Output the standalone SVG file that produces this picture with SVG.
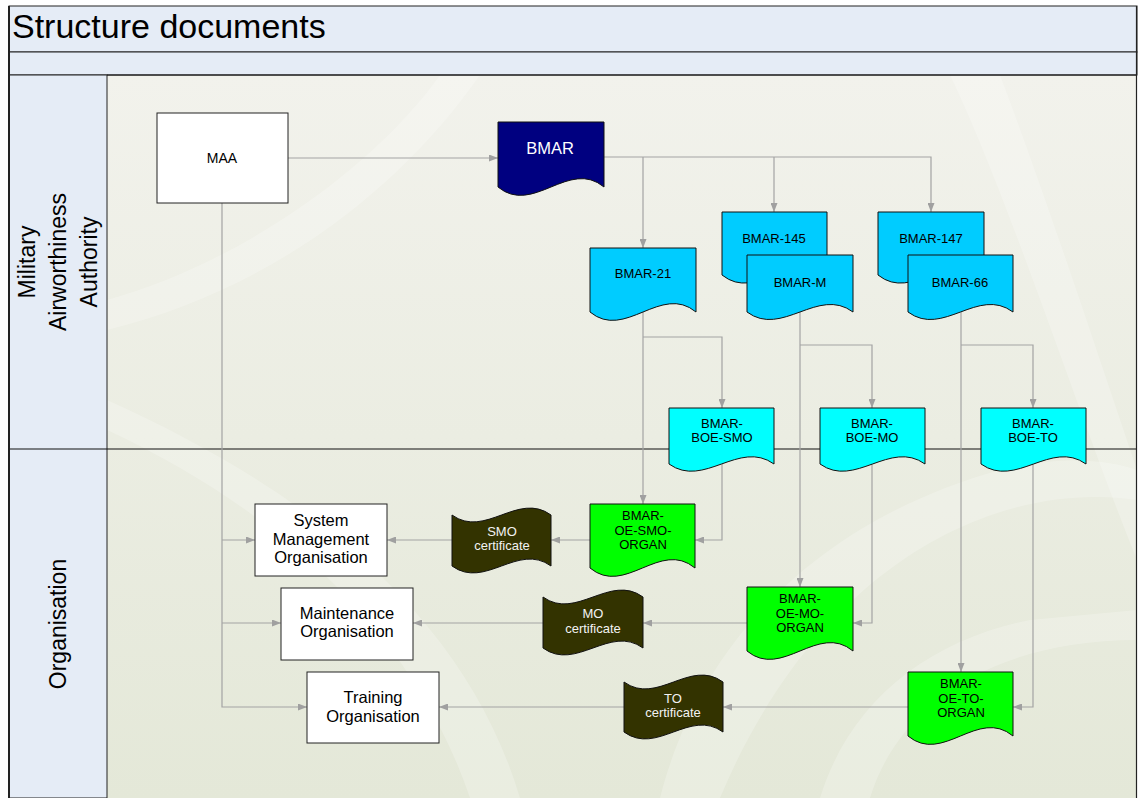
<svg xmlns="http://www.w3.org/2000/svg" width="1138" height="798" viewBox="0 0 1138 798">
<defs>
<linearGradient id="bg" x1="0" y1="75" x2="0" y2="798" gradientUnits="userSpaceOnUse">
<stop offset="0" stop-color="#f2f2ec"/>
<stop offset="1" stop-color="#e4e8d8"/>
</linearGradient>
<clipPath id="content"><rect x="107" y="75" width="1030" height="723"/></clipPath>
<marker id="arr" markerWidth="9" markerHeight="7" refX="9" refY="3.5" orient="auto" markerUnits="userSpaceOnUse">
<path d="M0,0 L9,3.5 L0,7 Z" fill="#a0a0a0"/>
</marker>
<style>
.hdr{fill:#e5ecf6;stroke:#222;stroke-width:1}
.lane{fill:none;stroke:#111;stroke-width:1.2}
.con{fill:none;stroke:#a3a3a3;stroke-width:1.2;marker-end:url(#arr)}
.box{fill:#fff;stroke:#222;stroke-width:1}
.doc{stroke:#111;stroke-width:1}
.blue{fill:#00ccff}
.cyan{fill:#00ffff}
.green{fill:#00ff00}
.navy{fill:#000080}
.cert{fill:#333300;stroke:#111;stroke-width:1}
text{font-family:"Liberation Sans",Arial,sans-serif;text-anchor:middle}
.t12{font-size:13px;fill:#000}
.tw{font-size:13px;fill:#f2f2f2}
.t16{font-size:16.5px;fill:#000}
.swoosh{fill:#ffffff;opacity:0.22}
</style>
</defs>

<!-- background / lanes -->
<g id="background">
<rect x="107" y="75" width="1030" height="723" fill="url(#bg)"/>
<g clip-path="url(#content)">
<path class="swoosh" d="M440,75 C380,160 250,260 107,300 L107,330 C270,290 400,190 480,75 Z"/>
<path class="swoosh" d="M107,430 C300,520 420,650 470,798 L520,798 C470,630 330,500 107,400 Z"/>
<path class="swoosh" d="M950,75 C1010,200 1080,420 1137,560 L1137,470 C1090,330 1040,180 1000,75 Z"/>
<path class="swoosh" d="M660,798 C700,640 820,520 1000,470 C1060,455 1110,460 1137,470 L1137,500 C1000,480 820,560 720,798 Z"/>
<path class="swoosh" d="M820,798 C850,700 930,640 1030,620 L1137,610 L1137,640 C1000,640 900,700 870,798 Z"/>
</g>
<rect class="hdr" x="9" y="6" width="1128" height="46"/>
<rect class="hdr" x="9" y="52" width="1128" height="23"/>
<rect class="hdr" x="9" y="75" width="98" height="723"/>
<line class="lane" x1="9" y1="449" x2="1137" y2="449"/>
<line class="lane" x1="107" y1="75" x2="1137" y2="75"/>
<line x1="9" y1="6" x2="9" y2="798" stroke="#222" stroke-width="2"/>
<line x1="1136.5" y1="6" x2="1136.5" y2="798" stroke="#222" stroke-width="1.2"/>
<text x="12" y="38" style="font-size:34px;text-anchor:start;fill:#000">Structure documents</text>
<text transform="translate(58,262) rotate(-90)" style="font-size:23px;fill:#000"><tspan x="0" y="-23">Military</tspan><tspan x="0" y="8">Airworthiness</tspan><tspan x="0" y="39">Authority</tspan></text>
<text transform="translate(58,624) rotate(-90)" style="font-size:23px;fill:#000"><tspan x="0" y="8">Organisation</tspan></text>
</g>

<!-- connectors -->
<g id="connectors">
<path class="con" d="M288,158 H498"/>
<path class="con" d="M604,157 H931 V212"/>
<path class="con" d="M643,157 V248"/>
<path class="con" d="M774,157 V212"/>
<path class="con" d="M643,312 V504"/>
<path class="con" d="M643,337 H722 V408"/>
<path class="con" d="M800,312 V587"/>
<path class="con" d="M800,345 H872 V408"/>
<path class="con" d="M961,312 V672"/>
<path class="con" d="M961,345 H1033 V408"/>
<path class="con" d="M722,464 V540 H695"/>
<path class="con" d="M872,464 V623 H853"/>
<path class="con" d="M1033,464 V707 H1013"/>
<path class="con" d="M590,540 H551"/>
<path class="con" d="M452,540 H387"/>
<path class="con" d="M747,623 H643"/>
<path class="con" d="M543,623 H413"/>
<path class="con" d="M908,707 H723"/>
<path class="con" d="M624,707 H439"/>
<path class="con" d="M222,203 V707 H307"/>
<path class="con" d="M222,540 H255"/>
<path class="con" d="M222,623 H281"/>
</g>

<!-- nodes -->
<g id="node-maa">
<rect class="box" x="157" y="113" width="131" height="90"/>
<text x="222" y="163" style="font-size:14px">MAA</text>
</g>
<g id="node-bmar">
<path class="doc navy" d="M498,122 H604 V187 C569,158 533,216 498,187 Z"/>
<text x="550" y="154" style="font-size:16.5px;fill:#fff">BMAR</text>
</g>
<g id="node-bmar-21">
<path class="doc blue" d="M590,248 H696 V312 C661,283 625,341 590,312 Z"/>
<text class="t12" x="643" y="278">BMAR-21</text>
</g>
<g id="node-bmar-145">
<path class="doc blue" d="M722,212 H827 V275 C792,247 757,303 722,275 Z"/>
<text class="t12" x="774" y="243">BMAR-145</text>
</g>
<g id="node-bmar-m">
<path class="doc blue" d="M747,255 H853 V312 C818,286 782,338 747,312 Z"/>
<text class="t12" x="800" y="287">BMAR-M</text>
</g>
<g id="node-bmar-147">
<path class="doc blue" d="M878,212 H984 V275 C949,247 913,303 878,275 Z"/>
<text class="t12" x="931" y="243">BMAR-147</text>
</g>
<g id="node-bmar-66">
<path class="doc blue" d="M908,255 H1013 V312 C978,286 943,338 908,312 Z"/>
<text class="t12" x="960" y="287">BMAR-66</text>
</g>
<g id="node-boe-smo">
<path class="doc cyan" d="M669,408 H774 V464 C739,439 704,489 669,464 Z"/>
<text class="t12" x="722" y="428">BMAR-<tspan x="722" y="442">BOE-SMO</tspan></text>
</g>
<g id="node-boe-mo">
<path class="doc cyan" d="M820,408 H925 V464 C890,439 855,489 820,464 Z"/>
<text class="t12" x="872" y="428">BMAR-<tspan x="872" y="442">BOE-MO</tspan></text>
</g>
<g id="node-boe-to">
<path class="doc cyan" d="M981,408 H1086 V464 C1051,439 1016,489 981,464 Z"/>
<text class="t12" x="1033" y="428">BMAR-<tspan x="1033" y="442">BOE-TO</tspan></text>
</g>
<g id="node-oe-smo">
<path class="doc green" d="M590,504 H695 V568 C660,539 625,597 590,568 Z"/>
<text class="t12" x="643" y="520">BMAR-<tspan x="643" y="535">OE-SMO-</tspan><tspan x="643" y="549">ORGAN</tspan></text>
</g>
<g id="node-oe-mo">
<path class="doc green" d="M747,587 H853 V651 C818,622 782,680 747,651 Z"/>
<text class="t12" x="800" y="603">BMAR-<tspan x="800" y="618">OE-MO-</tspan><tspan x="800" y="632">ORGAN</tspan></text>
</g>
<g id="node-oe-to">
<path class="doc green" d="M908,672 H1013 V736 C978,707 943,765 908,736 Z"/>
<text class="t12" x="961" y="688">BMAR-<tspan x="961" y="703">OE-TO-</tspan><tspan x="961" y="717">ORGAN</tspan></text>
</g>
<g id="node-smo-cert">
<path class="cert" d="M452,515 C485,539 518,491 551,515 V566 C518,542 485,590 452,566 Z"/>
<text class="tw" x="502" y="536">SMO<tspan x="502" y="550">certificate</tspan></text>
</g>
<g id="node-mo-cert">
<path class="cert" d="M543,597 C576,621 610,573 643,597 V648 C610,624 576,672 543,648 Z"/>
<text class="tw" x="593" y="618">MO<tspan x="593" y="633">certificate</tspan></text>
</g>
<g id="node-to-cert">
<path class="cert" d="M624,682 C657,706 690,658 723,682 V732 C690,708 657,756 624,732 Z"/>
<text class="tw" x="673" y="703">TO<tspan x="673" y="717">certificate</tspan></text>
</g>
<g id="node-smo">
<rect class="box" x="255" y="504" width="132" height="72"/>
<text class="t16" x="321" y="526">System<tspan x="321" y="545">Management</tspan><tspan x="321" y="563">Organisation</tspan></text>
</g>
<g id="node-mo">
<rect class="box" x="281" y="588" width="132" height="72"/>
<text class="t16" x="347" y="619">Maintenance<tspan x="347" y="637">Organisation</tspan></text>
</g>
<g id="node-to">
<rect class="box" x="307" y="672" width="132" height="71"/>
<text class="t16" x="373" y="703">Training<tspan x="373" y="722">Organisation</tspan></text>
</g>
</svg>
